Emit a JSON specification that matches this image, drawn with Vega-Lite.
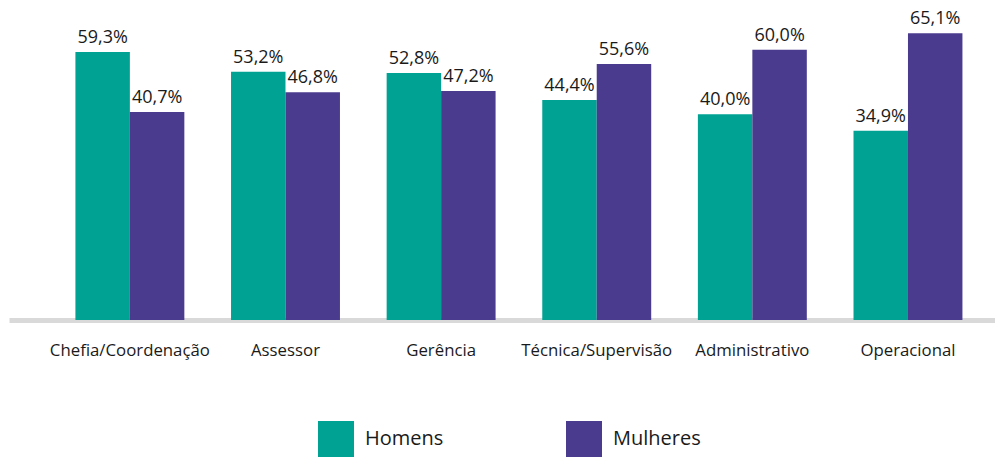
{
  "$schema": "https://vega.github.io/schema/vega-lite/v6.json",
  "width": 986,
  "height": 310,
  "autosize": {"type": "none"},
  "padding": {"left": 9, "top": 10, "right": 0, "bottom": 137},
  "background": "white",
  "config": {
    "locale": {"number": {"decimal": ",", "thousands": ".", "grouping": [3], "currency": ["R$", ""]}},
    "view": {"stroke": null}
  },
  "data": {
    "values": [
      {"cargo": "Chefia/Coordenação", "sexo": "Homens", "valor": 0.593},
      {"cargo": "Chefia/Coordenação", "sexo": "Mulheres", "valor": 0.407},
      {"cargo": "Assessor", "sexo": "Homens", "valor": 0.532},
      {"cargo": "Assessor", "sexo": "Mulheres", "valor": 0.468},
      {"cargo": "Gerência", "sexo": "Homens", "valor": 0.528},
      {"cargo": "Gerência", "sexo": "Mulheres", "valor": 0.472},
      {"cargo": "Técnica/Supervisão", "sexo": "Homens", "valor": 0.444},
      {"cargo": "Técnica/Supervisão", "sexo": "Mulheres", "valor": 0.556},
      {"cargo": "Administrativo", "sexo": "Homens", "valor": 0.400},
      {"cargo": "Administrativo", "sexo": "Mulheres", "valor": 0.600},
      {"cargo": "Operacional", "sexo": "Homens", "valor": 0.349},
      {"cargo": "Operacional", "sexo": "Mulheres", "valor": 0.651}
    ]
  },
  "encoding": {
    "x": {
      "field": "cargo",
      "type": "nominal",
      "sort": null,
      "scale": {"paddingInner": 0.3, "paddingOuter": 0.318, "align": 0.671},
      "axis": {
        "title": null,
        "labelAngle": 0,
        "ticks": false,
        "labelPadding": 22,
        "labelFontSize": 16.8,
        "labelFont": "Open Sans",
        "labelColor": "#1a1a1a",
        "labelLimit": 300,
        "domainColor": "#d9d9d9",
        "domainWidth": 5,
        "grid": false
      }
    },
    "xOffset": {"field": "sexo", "type": "nominal", "sort": ["Homens", "Mulheres"], "scale": {"paddingInner": 0}},
    "y": {
      "field": "valor",
      "type": "quantitative",
      "scale": {"domain": [-0.2378, 0.7231], "zero": false, "nice": false},
      "axis": null
    }
  },
  "layer": [
    {
      "mark": {"type": "bar"},
      "encoding": {
        "y2": {"datum": -0.2378},
        "color": {
          "field": "sexo",
          "type": "nominal",
          "scale": {"domain": ["Homens", "Mulheres"], "range": ["#00A393", "#4B3B8F"]},
          "legend": {
            "orient": "none",
            "legendX": 309,
            "legendY": 411,
            "direction": "horizontal",
            "title": null,
            "symbolType": "square",
            "symbolSize": 1296,
            "symbolStrokeWidth": 0,
            "symbolOpacity": 1,
            "labelFontSize": 20,
            "labelFont": "Open Sans",
            "labelColor": "#1a1a1a",
            "labelOffset": 11,
            "columnPadding": 122,
            "padding": 0
          }
        }
      }
    },
    {
      "mark": {"type": "text", "baseline": "alphabetic", "dy": -9, "fontSize": 18, "font": "Open Sans", "color": "#1a1a1a"},
      "encoding": {
        "text": {"field": "valor", "type": "quantitative", "format": ".1%"}
      }
    }
  ]
}
